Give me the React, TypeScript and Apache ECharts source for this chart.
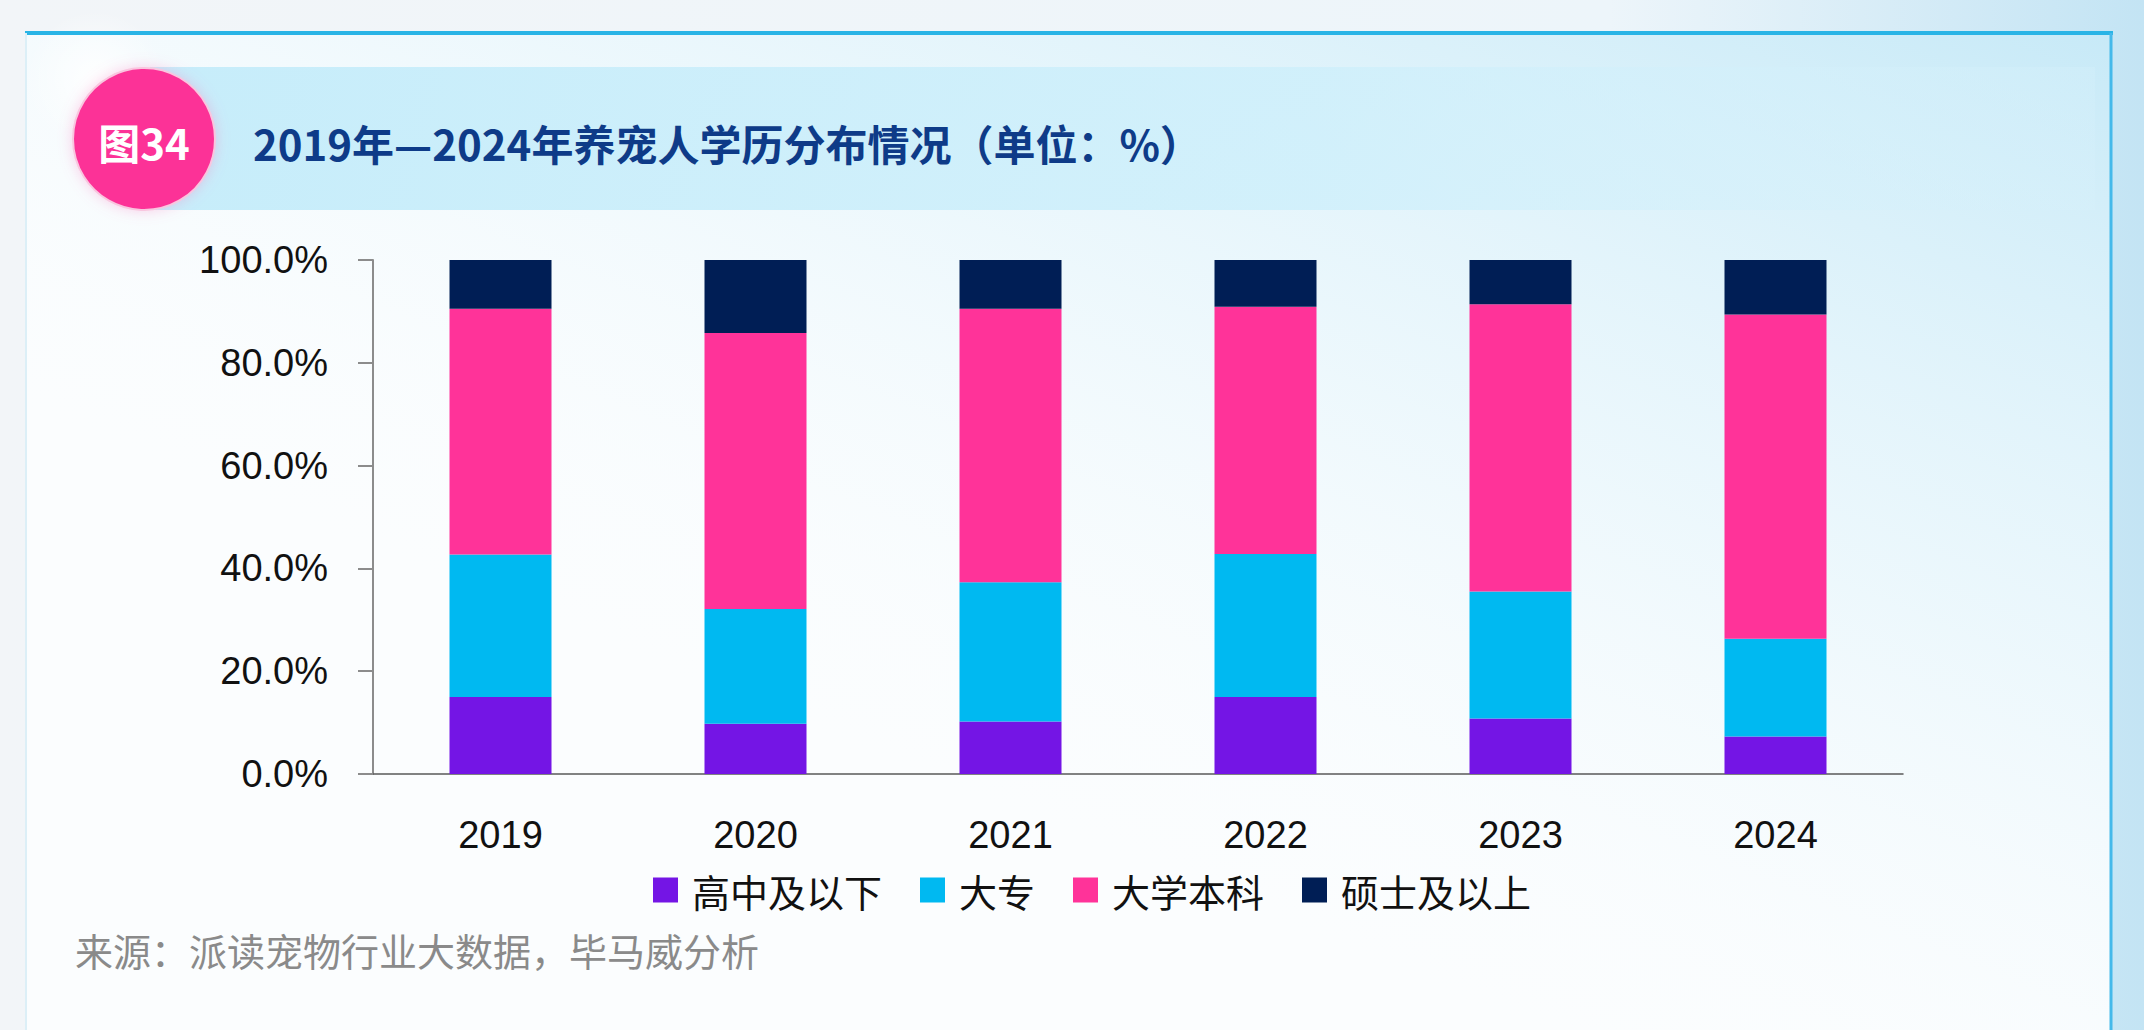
import React, { useEffect, useRef } from "react";
import * as echarts from "echarts";

// Education distribution of pet owners, 2019–2024 (percent of respondents)
const years = ["2019", "2020", "2021", "2022", "2023", "2024"];
const seriesNames = ["高中及以下", "大专", "大学本科", "硕士及以上"];
const highSchoolOrBelow = [15.0, 9.8, 10.2, 15.0, 10.8, 7.3];
const juniorCollege = [27.7, 22.3, 27.1, 27.8, 24.7, 19.0];
const bachelor = [47.8, 53.7, 53.2, 48.1, 55.9, 63.1];
const masterOrAbove = [9.5, 14.2, 9.5, 9.1, 8.6, 10.6];
const seriesColors = ["#7415E5", "#00B9F1", "#FF3399", "#001E55"];

const titleBadge = "图34";
const titleText = "2019年—2024年养宠人学历分布情况（单位：%）";
const sourceText = "来源：派读宠物行业大数据，毕马威分析";

const W = 2144;
const H = 1030;

export default function App() {
  const ref = useRef<HTMLDivElement>(null);

  useEffect(() => {
    if (!ref.current) return;
    const chart = echarts.init(ref.current, null, { renderer: "svg" });
    const values = [highSchoolOrBelow, juniorCollege, bachelor, masterOrAbove];
    const axisFont = "'Liberation Sans', Arial, sans-serif";
    const cjkFont = "'Noto Sans CJK SC', 'Noto Sans', sans-serif";

    chart.setOption({
      animation: false,
      graphic: [
        // page background
        {
          type: "rect",
          z: -20,
          shape: { x: 0, y: 0, width: W, height: H },
          style: {
            fill: {
              type: "linear", x: 0, y: 0, x2: 1, y2: 0,
              colorStops: [
                { offset: 0, color: "#F2F5F8" },
                { offset: 0.75, color: "#EDF5FA" },
                { offset: 1, color: "#C3E4F4" },
              ],
            },
          },
        },
        // framed content panel
        {
          type: "rect",
          z: -19,
          shape: { x: 25, y: 33, width: 2086, height: H - 33 },
          style: { fill: "#FBFDFE" },
        },
        {
          type: "rect",
          z: -18,
          shape: { x: 25, y: 33, width: 2086, height: H - 33 },
          style: {
            fill: {
              type: "linear", x: 1, y: 0, x2: 0.35, y2: 0.75,
              colorStops: [
                { offset: 0, color: "rgba(190,230,246,0.85)" },
                { offset: 0.5, color: "rgba(215,240,250,0.4)" },
                { offset: 1, color: "rgba(255,255,255,0)" },
              ],
            },
          },
        },
        // soft glow top-left
        {
          type: "circle",
          z: -17,
          shape: { cx: 95, cy: 80, r: 70 },
          style: {
            fill: {
              type: "radial", x: 0.5, y: 0.5, r: 0.5,
              colorStops: [
                { offset: 0, color: "rgba(255,255,255,0.9)" },
                { offset: 1, color: "rgba(255,255,255,0)" },
              ],
            },
          },
        },
        // title band
        {
          type: "rect",
          z: -16,
          shape: { x: 150, y: 67, width: 1945, height: 143 },
          style: {
            fill: {
              type: "linear", x: 0, y: 0, x2: 1, y2: 0,
              colorStops: [
                { offset: 0, color: "rgba(196,236,250,0.95)" },
                { offset: 0.6, color: "rgba(205,239,251,0.8)" },
                { offset: 1, color: "rgba(215,241,251,0.3)" },
              ],
            },
          },
        },
        // frame lines
        {
          type: "line",
          z: -15,
          shape: { x1: 25, y1: 33, x2: 2113, y2: 33 },
          style: { stroke: "#29B4E6", lineWidth: 4 },
        },
        {
          type: "line",
          z: -15,
          shape: { x1: 2111, y1: 33, x2: 2111, y2: H },
          style: { stroke: "#45B9EA", lineWidth: 3 },
        },
        {
          type: "line",
          z: -15,
          shape: { x1: 26, y1: 33, x2: 26, y2: H },
          style: { stroke: "#DCEFF7", lineWidth: 2 },
        },
        // figure badge
        {
          type: "circle",
          z: -10,
          shape: { cx: 144, cy: 139, r: 71 },
          style: {
            fill: "#FC3397",
            stroke: "#F9C6DF",
            lineWidth: 2,
            shadowBlur: 14,
            shadowColor: "rgba(250,120,190,0.35)",
          },
        },
        {
          type: "text",
          z: -9,
          x: 144,
          y: 141,
          style: {
            text: titleBadge,
            fill: "#FFFFFF",
            font: `bold 42px ${cjkFont}`,
            textAlign: "center",
            textVerticalAlign: "middle",
          },
        },
        {
          type: "text",
          z: -9,
          x: 253,
          y: 142,
          style: {
            text: titleText,
            fill: "#0E3B88",
            font: `bold 42px ${cjkFont}`,
            textAlign: "left",
            textVerticalAlign: "middle",
          },
        },
        {
          type: "text",
          z: -9,
          x: 75,
          y: 949,
          style: {
            text: sourceText,
            fill: "#8A8A8A",
            font: `38px ${cjkFont}`,
            textAlign: "left",
            textVerticalAlign: "middle",
          },
        },
      ],
      legend: {
        data: seriesNames,
        left: 648,
        top: 866,
        icon: "rect",
        itemWidth: 25,
        itemHeight: 25,
        itemGap: 38,
        textStyle: {
          fontFamily: cjkFont,
          fontSize: 38,
          color: "#111111",
          padding: [0, 0, 0, 9],
        },
      },
      grid: { left: 373, top: 260, width: 1530, height: 514, containLabel: false },
      xAxis: [
        {
          type: "category",
          data: years,
          axisLine: { lineStyle: { color: "#595959", width: 1.5 } },
          axisTick: { length: 15, lineStyle: { color: "#7F7F7F", width: 2 } },
          axisLabel: {
            margin: 42,
            fontFamily: axisFont,
            fontSize: 38,
            color: "#111111",
          },
        },
        {
          type: "category",
          data: years,
          position: "bottom",
          axisLine: { show: false },
          axisTick: { alignWithLabel: true, length: 11, lineStyle: { color: "#8A8A8A", width: 2 } },
          axisLabel: { show: false },
        },
      ],
      yAxis: {
        type: "value",
        min: 0,
        max: 100,
        interval: 20,
        splitLine: { show: false },
        axisLine: { show: true, lineStyle: { color: "#8C8C8C", width: 2 } },
        axisTick: { show: true, length: 15, lineStyle: { color: "#8C8C8C", width: 2 } },
        axisLabel: {
          margin: 45,
          fontFamily: axisFont,
          fontSize: 38,
          color: "#111111",
          formatter: (v: number) => `${v.toFixed(1)}%`,
        },
      },
      series: seriesNames.map((name, i) => ({
        name,
        type: "bar",
        stack: "total",
        xAxisIndex: 0,
        barWidth: "40%",
        data: values[i],
        itemStyle: { color: seriesColors[i] },
      })),
    });

    return () => chart.dispose();
  }, []);

  return (
    <div
      ref={ref}
      style={{ position: "absolute", left: 0, top: 0, width: W, height: H }}
    />
  );
}
